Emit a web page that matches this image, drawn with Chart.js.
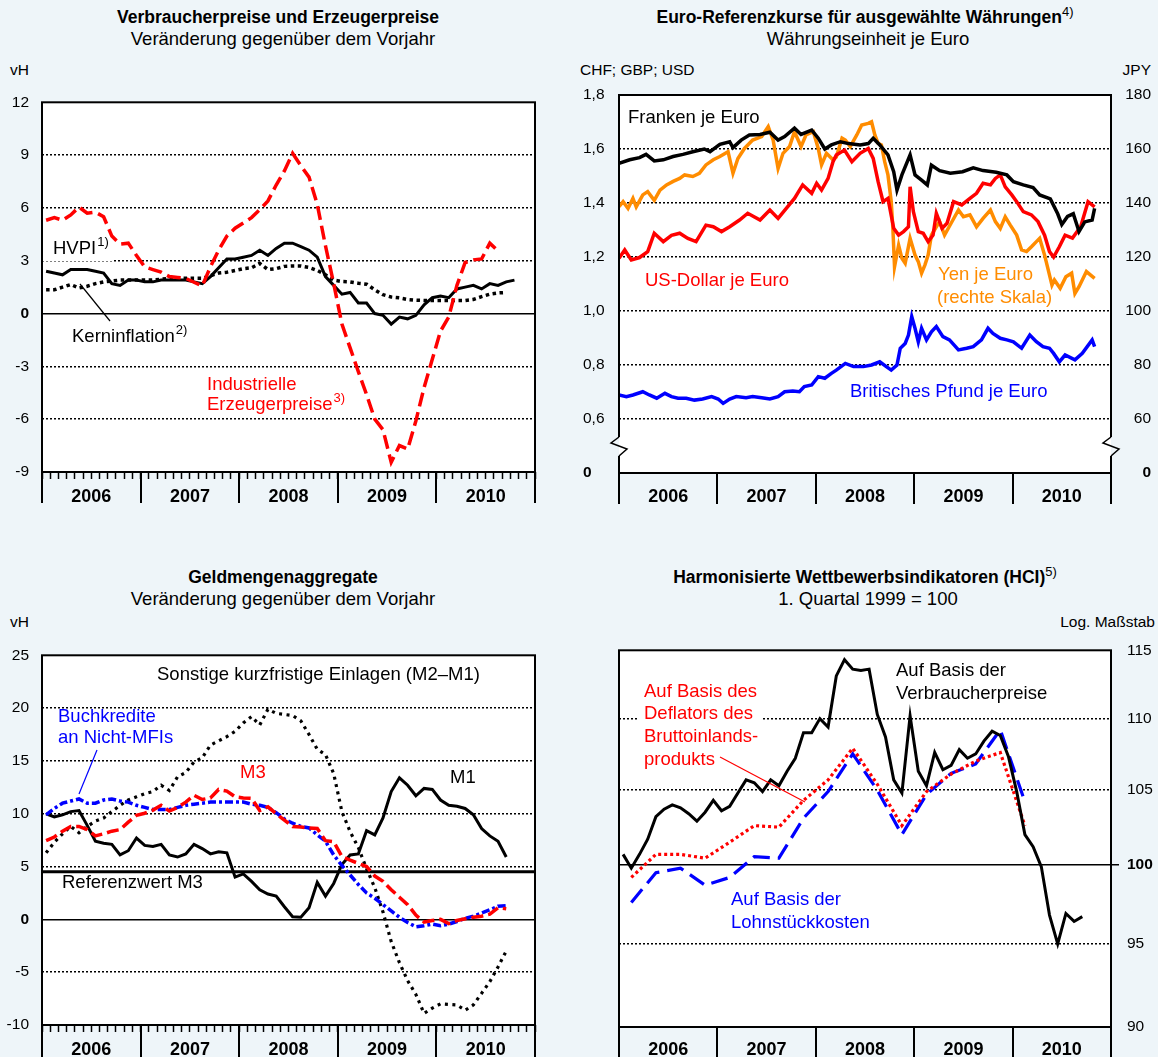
<!DOCTYPE html>
<html lang="de">
<head>
<meta charset="utf-8">
<title>Preise, Wechselkurse, Geldmengen, HCI</title>
<script src="https://cdn.jsdelivr.net/npm/chart.js@4/dist/chart.umd.min.js"></script>
<style>
  html, body { margin: 0; padding: 0; }
  body { width: 1158px; height: 1057px; position: relative; overflow: hidden; background: #eef5f9;
         font-family: "Liberation Sans", Arial, sans-serif; color: #000; }
  canvas { position: absolute; }
  .txt { position: absolute; white-space: nowrap; line-height: 1; font-size: 18.5px; }
  .c { transform: translate(-50%, -50%); }
  .l { transform: translate(0, -50%); }
  .r { transform: translate(-100%, -50%); }
  .b { font-weight: bold; font-size: 17.5px; }
  .s { font-size: 15.5px; }
  .sup { font-size: 13px; font-weight: normal; position: relative; top: -7px; }
</style>
</head>
<body>
<div class="txt c b" style="left:278px;top:18px">Verbraucherpreise und Erzeugerpreise</div>
<div class="txt c" style="left:283px;top:39px">Veränderung gegenüber dem Vorjahr</div>
<div class="txt l s" style="left:10px;top:70px">vH</div>
<div class="txt c b" style="left:865px;top:18px">Euro-Referenzkurse für ausgewählte Währungen<span class="sup">4)</span></div>
<div class="txt c" style="left:868px;top:39px">Währungseinheit je Euro</div>
<div class="txt l s" style="left:580px;top:70px">CHF; GBP; USD</div>
<div class="txt r s" style="left:1151px;top:70px">JPY</div>
<div class="txt c b" style="left:283px;top:578px">Geldmengenaggregate</div>
<div class="txt c" style="left:283px;top:599px">Veränderung gegenüber dem Vorjahr</div>
<div class="txt l s" style="left:10px;top:622px">vH</div>
<div class="txt c b" style="left:865px;top:578px">Harmonisierte Wettbewerbsindikatoren (HCI)<span class="sup">5)</span></div>
<div class="txt c" style="left:868px;top:599px">1. Quartal 1999 = 100</div>
<div class="txt r s" style="left:1155px;top:622px">Log. Maßstab</div>

<canvas id="cPreise" width="579" height="440" style="left:0;top:80px"></canvas>
<canvas id="cKurse" width="579" height="440" style="left:579px;top:80px"></canvas>
<canvas id="cGeld" width="579" height="424" style="left:0;top:633px"></canvas>
<canvas id="cHci" width="579" height="424" style="left:579px;top:633px"></canvas>

<script>
const FONT = '"Liberation Sans", Arial, sans-serif';
const BLACK = '#000000', RED = '#ff0000', BLUE = '#0000ff', ORANGE = '#ff8c00';

// x axis: months since Jan 2006
const yearLabels = ['2006', '2007', '2008', '2009', '2010'];
const yearBounds = [0, 12, 24, 36, 48, 60];

// Verbraucherpreise und Erzeugerpreise, vH, monthly from Jan 2006
const hvpi = [2.4, 2.3, 2.2, 2.5, 2.5, 2.5, 2.4, 2.3, 1.7, 1.6, 1.9, 1.9,
  1.8, 1.8, 1.9, 1.9, 1.9, 1.9, 1.8, 1.7, 2.1, 2.6, 3.1, 3.1,
  3.2, 3.3, 3.6, 3.3, 3.7, 4.0, 4.0, 3.8, 3.6, 3.2, 2.1, 1.6,
  1.1, 1.2, 0.6, 0.6, 0.0, -0.1, -0.6, -0.2, -0.3, -0.1, 0.5, 0.9,
  1.0, 0.9, 1.4, 1.5, 1.6, 1.4, 1.7, 1.6, 1.8, 1.9];
const kerninflation = [1.35, 1.35, 1.5, 1.65, 1.45, 1.55, 1.7, 1.8, 1.85, 1.9, 1.9, 1.9,
  1.9, 1.9, 1.95, 2.0, 2.0, 2.0, 2.0, 2.0, 2.15, 2.3, 2.35, 2.45,
  2.55, 2.6, 2.85, 2.5, 2.55, 2.68, 2.7, 2.7, 2.62, 2.45, 2.2, 1.9,
  1.82, 1.8, 1.72, 1.67, 1.35, 1.07, 0.94, 0.89, 0.8, 0.76, 0.74, 0.74,
  0.74, 0.74, 0.74, 0.74, 0.8, 0.96, 1.1, 1.17, 1.2];
const erzeugerpreise = [5.3, 5.45, 5.3, 5.6, 6.05, 5.7, 5.76, 5.5, 4.4, 3.95, 4.0, 3.3,
  2.65, 2.5, 2.35, 2.1, 2.05, 2.0, 1.78, 1.57, 2.65, 3.6, 4.4, 4.85,
  5.15, 5.45, 5.9, 6.4, 7.3, 8.1, 9.1, 8.4, 7.75, 6.2, 3.85, 1.7,
  -0.6, -1.95, -3.3, -4.6, -6.0, -6.6, -8.45, -7.5, -7.7, -6.1, -4.2, -2.6,
  -1.0, -0.2, 1.6, 2.9, 3.05, 3.1, 4.0, 3.55];

// Euro-Referenzkurse: [months since Jan 2006, rate]
const chf = [[0, 1.547], [1.3, 1.56], [2.5, 1.568], [3.3, 1.58], [4.3, 1.556], [5.4, 1.56], [6.6, 1.572],
  [7.8, 1.58], [9, 1.59], [10.4, 1.6], [11.1, 1.59], [12.3, 1.617], [13.5, 1.627], [13.9, 1.605],
  [14.9, 1.633], [15.9, 1.652], [17.2, 1.654], [18.4, 1.662], [19.4, 1.633], [20.2, 1.646], [21.4, 1.677],
  [22.2, 1.654], [23.5, 1.67], [24.3, 1.64], [25.1, 1.6], [25.9, 1.615], [27, 1.627], [28, 1.62],
  [29.4, 1.615], [30.4, 1.62], [31, 1.64], [31.8, 1.615], [32.8, 1.578], [33.5, 1.516], [33.9, 1.448],
  [34.5, 1.504], [35.5, 1.578], [36.1, 1.504], [36.9, 1.485], [37.6, 1.467], [38.1, 1.54], [39.1, 1.52],
  [40.4, 1.51], [41.9, 1.516], [43.2, 1.53], [44.4, 1.52], [46, 1.514], [47.3, 1.504], [48.1, 1.479],
  [49.3, 1.467], [50.5, 1.457], [51.3, 1.43], [52.6, 1.415], [53.5, 1.36], [54, 1.32], [54.7, 1.35],
  [55.4, 1.36], [56.1, 1.294], [56.8, 1.33], [57.7, 1.337], [58, 1.38]];
const usd = [[0, 1.195], [0.7, 1.226], [1.5, 1.189], [2.5, 1.198], [3.5, 1.22], [4.3, 1.288], [5.4, 1.257],
  [6.4, 1.28], [7.4, 1.288], [8.4, 1.269], [9.4, 1.257], [10.6, 1.318], [11.5, 1.312], [12.5, 1.294],
  [13.5, 1.312], [14.7, 1.337], [15.7, 1.362], [17.2, 1.337], [18.4, 1.374], [19.4, 1.343], [20.4, 1.38],
  [21.4, 1.417], [22.4, 1.467], [23.5, 1.436], [24.1, 1.473], [24.7, 1.448], [25.5, 1.491], [26.1, 1.553],
  [26.5, 1.578], [27.5, 1.596], [28.4, 1.553], [29.4, 1.584], [30.4, 1.602], [31, 1.565], [31.6, 1.479],
  [32.2, 1.405], [32.8, 1.417], [33.5, 1.306], [34.1, 1.281], [34.7, 1.294], [35.3, 1.312], [35.5, 1.46],
  [35.9, 1.368], [36.5, 1.294], [37.1, 1.288], [37.7, 1.257], [38.3, 1.281], [38.7, 1.362], [39.4, 1.306],
  [40, 1.325], [40.8, 1.405], [41.8, 1.393], [42.8, 1.417], [43.6, 1.436], [44.4, 1.473], [45.3, 1.467],
  [45.9, 1.491], [46.5, 1.504], [47.1, 1.46], [47.9, 1.43], [48.5, 1.405], [49.3, 1.368], [50.3, 1.356],
  [51.1, 1.331], [51.9, 1.281], [52.5, 1.22], [53, 1.2], [53.7, 1.238], [54.4, 1.281], [55.3, 1.27],
  [56.3, 1.312], [57.2, 1.405], [58, 1.386]];
const jpy = [[0, 138.6], [0.5, 140.5], [1.1, 138], [1.7, 141.7], [2.1, 138.6], [2.9, 143], [3.5, 144.2],
  [4.3, 141], [5, 144.8], [5.8, 146.7], [6.6, 148], [7.4, 149.1], [8, 150.4], [9, 149.8], [9.8, 151],
  [10.6, 154.1], [11.5, 156], [12.3, 157.2], [13.3, 159], [13.9, 151], [14.5, 156.5], [15.3, 160.2],
  [16.3, 163.3], [17.4, 164.6], [18.2, 168.3], [18.8, 163.3], [19.4, 152.8], [20, 158.4], [20.8, 160.9],
  [21.4, 166.4], [22.2, 160.9], [22.8, 165.2], [23.7, 166.4], [24.3, 160.2], [24.7, 154.1], [25.3, 158.4],
  [26.1, 156], [26.5, 157], [27.2, 164], [27.6, 163.3], [28.2, 160.9], [29, 165.2], [29.6, 168.9],
  [30.4, 169.5], [30.8, 170.1], [31.2, 165.2], [31.6, 162.1], [32, 161.5], [32.4, 155.3], [32.8, 150.4],
  [33.2, 140.5], [33.4, 130.6], [33.6, 116.4], [34.1, 124.4], [34.5, 119.5], [34.9, 117.7], [35.5, 126.9],
  [36.1, 120.7], [36.5, 118.3], [36.9, 114], [37.3, 117], [37.7, 120.7], [38.1, 128.1], [38.7, 131.2],
  [39.1, 133.1], [39.7, 128.1], [40.5, 132.5], [41.4, 137.4], [42, 134.9], [42.8, 135.6], [43.6, 131.2],
  [44.4, 134.3], [45.3, 137.4], [45.9, 133.1], [46.5, 130.6], [47.1, 134.9], [47.7, 131.9], [48.5, 128.1],
  [49.1, 122.6], [49.7, 122], [50.3, 123.8], [50.9, 125.7], [51.3, 126.9], [51.9, 120.7], [52.3, 115.8],
  [52.8, 109.6], [53.1, 111.5], [53.8, 108.4], [54.5, 112.7], [55.2, 114], [55.6, 106.5], [56.1, 109],
  [57, 114.6], [58, 112.1]];
const gbp = [[0, 0.689], [0.9, 0.683], [1.7, 0.689], [2.9, 0.701], [3.7, 0.689], [4.6, 0.677], [5.6, 0.695],
  [6.4, 0.683], [7.2, 0.677], [8.2, 0.677], [9.2, 0.67], [10.2, 0.674], [11.3, 0.683], [12.1, 0.674],
  [12.7, 0.658], [13.5, 0.674], [14.3, 0.683], [15.5, 0.679], [16.3, 0.683], [17.4, 0.679], [18.4, 0.674],
  [19.4, 0.683], [20.2, 0.701], [21.2, 0.704], [22, 0.701], [22.6, 0.72], [23.5, 0.726], [24.3, 0.757],
  [25.1, 0.751], [25.9, 0.769], [26.5, 0.781], [27.6, 0.806], [28.6, 0.794], [29.8, 0.794], [30.8, 0.8],
  [31.8, 0.812], [32.6, 0.794], [33.2, 0.781], [33.9, 0.8], [34.3, 0.862], [34.9, 0.88], [35.3, 0.911],
  [35.7, 0.979], [36.1, 0.936], [36.5, 0.886], [36.9, 0.936], [37.5, 0.893], [38.1, 0.923], [38.7, 0.942],
  [39.5, 0.905], [40.3, 0.893], [41.4, 0.856], [42.4, 0.862], [43.2, 0.868], [44.2, 0.893], [45, 0.936],
  [45.6, 0.917], [46.5, 0.899], [47.3, 0.893], [48.1, 0.886], [49.1, 0.862], [50.1, 0.911], [50.9, 0.886],
  [51.7, 0.868], [52.5, 0.862], [53, 0.843], [53.7, 0.812], [54.4, 0.837], [55.6, 0.819], [56.5, 0.843],
  [57.7, 0.893], [58, 0.868]];

// Geldmengenaggregate, vH, monthly from Jan 2006
const m1 = [10.0, 9.7, 9.9, 10.2, 10.3, 8.9, 7.4, 7.2, 7.1, 6.1, 6.5, 7.7,
  7.0, 6.9, 7.1, 6.1, 5.9, 6.2, 7.1, 6.7, 6.2, 6.4, 6.3, 4.0,
  4.3, 3.6, 2.8, 2.4, 2.2, 1.2, 0.25, 0.2, 1.1, 3.5, 2.2, 3.4,
  5.2, 6.1, 6.2, 8.4, 8.0, 9.6, 12.1, 13.4, 12.7, 11.7, 12.4, 12.3,
  11.3, 10.8, 10.7, 10.5, 9.9, 8.6, 7.9, 7.4, 5.9];
const m3 = [7.45, 7.8, 8.35, 8.8, 8.8, 8.5, 7.9, 8.1, 8.35, 8.5, 9.2, 9.85,
  10.05, 10.35, 10.8, 10.25, 10.6, 11.1, 11.75, 11.35, 11.5, 12.3, 12.15, 11.6,
  11.5, 11.45, 10.3, 10.65, 10.0, 9.4, 8.8, 8.75, 8.65, 8.6, 7.45, 7.35,
  5.95, 5.6, 5.3, 5.0, 4.1, 3.6, 2.8, 2.1, 1.4, 0.4, -0.25, -0.1,
  0.0, -0.4, -0.1, 0.05, 0.2, 0.3, 0.5, 1.1, 1.0];
const buchkredite = [9.9, 10.5, 11.0, 11.2, 11.4, 11.0, 11.0, 11.3, 11.4, 11.2, 11.1, 10.8,
  10.6, 10.4, 10.4, 10.4, 10.6, 10.8, 10.9, 11.0, 11.1, 11.1, 11.1, 11.1,
  11.1, 10.9, 10.8, 10.6, 10.1, 9.5, 9.1, 8.8, 8.65, 8.0, 7.4, 6.1,
  5.1, 4.2, 3.3, 2.5, 2.0, 1.4, 0.8, 0.2, -0.3, -0.7, -0.6, -0.45,
  -0.6, -0.45, -0.2, 0.1, 0.3, 0.6, 0.9, 1.25, 1.3];
const sonstigeEinlagen = [6.3, 7.3, 8.1, 8.8, 8.2, 8.8, 9.3, 9.6, 10.2, 10.8, 11.3, 11.6,
  11.9, 12.1, 12.7, 12.2, 13.5, 13.9, 14.9, 15.3, 16.5, 16.9, 17.3, 17.8,
  18.6, 19.2, 18.4, 19.9, 19.5, 19.4, 19.3, 18.8, 17.5, 16.1, 15.6, 13.8,
  10.2, 8.3, 6.8, 4.8, 3.0, 0.7, -2.1, -4.1, -5.8, -7.1, -8.9, -8.4,
  -8.0, -8.05, -8.1, -8.6, -8.1, -7.0, -5.9, -4.5, -3.0];
const referenzwertM3 = 4.5;

// HCI, 1. Quartal 1999 = 100
const hciVerbraucher = [100.7, 99.8, 100.7, 101.7, 103.2, 103.7, 104.0, 103.8, 103.4, 102.9, 103.5, 104.3,
  103.6, 103.9, 104.8, 105.7, 105.5, 104.9, 105.7, 105.3, 106.3, 107.2, 109.0, 109.0,
  110.0, 109.4, 113.1, 114.3, 113.6, 113.5, 113.6, 110.3, 108.7, 105.7, 104.8, 110.2,
  106.3, 105.3, 107.6, 106.4, 106.7, 107.8, 107.2, 107.5, 108.4, 109.1, 108.8, 107.3,
  104.9, 102.0, 101.2, 99.9, 96.8, 95.0, 96.9, 96.4, 96.7];              // monthly
const hciDeflator = [99.2, 100.7, 100.7, 100.45, 101.5, 102.6, 102.5, 104.3, 105.7,
  107.9, 105.4, 102.6, 104.9, 106.1, 107.0, 107.6, 102.6];               // quarterly
const hciLohnstueck = [97.6, 99.5, 99.8, 98.7, 99.2, 100.55, 100.45, 103.1, 104.9,
  107.5, 105.0, 102.0, 104.7, 106.15, 106.8, 109.2, 104.2];              // quarterly

const monthly = arr => arr.map((v, i) => ({x: i + 0.5, y: v}));
const quarterly = arr => arr.map((v, i) => ({x: i * 3 + 1.5, y: v}));
const daily = arr => arr.map(p => ({x: p[0], y: p[1]}));

function line(data, color, width, dash, axis) {
  return {data, borderColor: color, borderWidth: width, borderDash: dash || [], borderCapStyle: 'butt',
    borderJoinStyle: 'miter', pointRadius: 0, tension: 0, fill: false, yAxisID: axis || 'y'};
}

function xAxis(monthTicks, height, pad) {
  return {
    type: 'linear', min: 0, max: 60,
    afterBuildTicks: s => {
      s.ticks = monthTicks ? Array.from({length: 61}, (_, i) => ({value: i}))
                           : [6, 18, 30, 42, 54].map(v => ({value: v}));
    },
    ticks: {
      autoSkip: false, maxRotation: 0, minRotation: 0, padding: pad, color: BLACK,
      font: {family: FONT, size: 18, weight: 'bold'},
      callback: v => (v % 12 === 6 ? yearLabels[(v - 6) / 12] : '')
    },
    grid: monthTicks
      ? {drawOnChartArea: false, drawTicks: true, tickLength: 7, tickWidth: 1.5, tickColor: BLACK, color: BLACK}
      : {display: false, drawTicks: false},
    border: {display: false},
    afterFit: s => { s.height = height; }
  };
}

function yAxis(o) {
  const n = o.ticks.length;
  return {
    type: o.type || 'linear', position: o.position || 'left', min: o.min, max: o.max,
    afterBuildTicks: s => { s.ticks = o.ticks.map(v => ({value: v})); },
    ticks: {
      padding: o.pad, crossAlign: o.cross || 'near', color: BLACK,
      font: c => ({family: FONT, size: 15.5, weight: c.tick && c.tick.value === o.strong ? 'bold' : 'normal'}),
      callback: o.label || (v => String(v))
    },
    grid: o.grid === false ? {display: false, drawTicks: false} : {
      drawTicks: o.tickAt !== undefined, tickLength: 8, tickWidth: 1.5,
      tickColor: c => (c.tick && c.tick.value === o.tickAt ? BLACK : 'rgba(0,0,0,0)'),
      lineWidth: 1.5,
      color: c => (c.index > 0 && c.index < n - 1 ? BLACK : 'rgba(0,0,0,0)')
    },
    border: {display: false, dash: c => (c.tick && c.tick.value === o.solid ? [] : [2, 2])},
    afterFit: s => { s.width = o.width; }
  };
}

// frame, year dividers, notes and other decoration in page coordinates
function decor(off, d) {
  const px = x => x - off[0], py = y => y - off[1];
  return {
    id: 'decor',
    beforeDraw(chart) {
      const {ctx, chartArea: a} = chart;
      ctx.save();
      ctx.fillStyle = '#ffffff';
      ctx.fillRect(a.left, a.top, a.right - a.left, a.bottom - a.top);
      ctx.restore();
    },
    beforeDatasetsDraw(chart) {
      const ctx = chart.ctx;
      ctx.save();
      ctx.fillStyle = '#ffffff';
      (d.boxes || []).forEach(b => ctx.fillRect(px(b[0]), py(b[1]), b[2] - b[0], b[3] - b[1]));
      ctx.textBaseline = 'alphabetic';
      ctx.textAlign = 'left';
      (d.notes || []).forEach(nt => {
        ctx.fillStyle = nt.c || BLACK;
        ctx.font = '18.5px ' + FONT;
        ctx.fillText(nt.t, px(nt.x), py(nt.y));
        if (nt.s) {
          const w = ctx.measureText(nt.t).width;
          ctx.font = '13px ' + FONT;
          ctx.fillText(nt.s, px(nt.x) + w + 1, py(nt.y) - 8);
        }
      });
      ctx.restore();
    },
    afterDatasetsDraw(chart) {
      const {ctx, chartArea: a} = chart;
      const xs = chart.scales.x;
      ctx.save();
      ctx.strokeStyle = BLACK;
      ctx.lineWidth = 2;
      ctx.strokeRect(a.left, a.top, a.right - a.left, a.bottom - a.top);
      ctx.beginPath();
      yearBounds.forEach(v => {
        const x = Math.round(xs.getPixelForValue(v));
        ctx.moveTo(x, a.bottom);
        ctx.lineTo(x, a.bottom + d.band);
      });
      ctx.stroke();
      (d.leaders || []).forEach(l => {
        ctx.strokeStyle = l[4];
        ctx.lineWidth = 1.2;
        ctx.beginPath();
        ctx.moveTo(px(l[0]), py(l[1]));
        ctx.lineTo(px(l[2]), py(l[3]));
        ctx.stroke();
      });
      if (d.breakAt !== undefined) {
        const y = chart.scales.y.getPixelForValue(d.breakAt);
        [[a.left, -1], [a.right, 1]].forEach(([x, side]) => {
          ctx.clearRect(side < 0 ? x - 2 : x, y - 9, 2, 19);
          ctx.fillStyle = '#ffffff';
          ctx.fillRect(side < 0 ? x : x - 2, y - 9, 2, 19);
          ctx.strokeStyle = BLACK;
          ctx.lineWidth = 1.5;
          ctx.beginPath();
          ctx.moveTo(x, y - 9);
          ctx.lineTo(x - 8, y - 3);
          ctx.lineTo(x + 8, y + 3);
          ctx.lineTo(x, y + 10);
          ctx.stroke();
        });
      }
      ctx.restore();
    }
  };
}

function makeChart(id, datasets, scales, padding, plugin) {
  return new Chart(document.getElementById(id), {
    type: 'line',
    data: {datasets},
    options: {
      responsive: false, animation: false, devicePixelRatio: 1, events: [],
      layout: {padding, autoPadding: false},
      scales,
      plugins: {legend: {display: false}, tooltip: {enabled: false}}
    },
    plugins: [plugin]
  });
}

// Verbraucherpreise und Erzeugerpreise
makeChart('cPreise', [
  line(monthly(erzeugerpreise), RED, 3.5, [14, 6]),
  line(monthly(hvpi), BLACK, 3),
  line(monthly(kerninflation), BLACK, 3.5, [3.5, 3.5])
], {
  x: xAxis(true, 48, 7),
  y: yAxis({min: -9, max: 12, ticks: [-9, -6, -3, 0, 3, 6, 9, 12], width: 42, pad: 13, strong: 0, solid: 0})
}, {top: 14, right: 44, left: 0, bottom: 0}, decor([0, 80], {
  band: 31,
  boxes: [[42, 249, 114, 261]],
  notes: [
    {t: 'HVPI', s: '1)', x: 53, y: 254},
    {t: 'Kerninflation', s: '2)', x: 72, y: 342},
    {t: 'Industrielle', x: 207, y: 390, c: RED},
    {t: 'Erzeugerpreise', s: '3)', x: 207, y: 410, c: RED}
  ],
  leaders: [[110, 321, 80, 284, BLACK]]
}));

// Euro-Referenzkurse
makeChart('cKurse', [
  line(daily(chf), BLACK, 3.5),
  line(daily(usd), RED, 3.5),
  line(daily(jpy), ORANGE, 3.5, [], 'y2'),
  line(daily(gbp), BLUE, 3.5)
], {
  x: xAxis(false, 47, 13),
  y: yAxis({min: 0.4, max: 1.8, ticks: [0.4, 0.6, 0.8, 1.0, 1.2, 1.4, 1.6, 1.8], width: 36, pad: 0,
    cross: 'far', strong: 0.4, label: v => (v === 0.4 ? '0' : v.toFixed(1).replace('.', ','))}),
  y2: yAxis({position: 'right', min: 40, max: 180, ticks: [40, 60, 80, 100, 120, 140, 160, 180], width: 40,
    pad: 0, cross: 'far', strong: 40, grid: false, label: v => (v === 40 ? '0' : String(v))})
}, {top: 15, right: 7, left: 4, bottom: 0}, decor([579, 80], {
  band: 31,
  breakAt: 0.5,
  notes: [
    {t: 'Franken je Euro', x: 628, y: 123},
    {t: 'US-Dollar je Euro', x: 645, y: 286, c: RED},
    {t: 'Yen je Euro', x: 938, y: 280, c: ORANGE},
    {t: '(rechte Skala)', x: 937, y: 303, c: ORANGE},
    {t: 'Britisches Pfund je Euro', x: 850, y: 397, c: BLUE}
  ]
}));

// Geldmengenaggregate
makeChart('cGeld', [
  line(monthly(m3), RED, 3.5, [12, 5]),
  line(monthly(buchkredite), BLUE, 3.5, [8, 3, 3, 3]),
  line(monthly(m1), BLACK, 3),
  line(monthly(sonstigeEinlagen), BLACK, 3.2, [3, 4.5]),
  line([{x: 0, y: referenzwertM3}, {x: 60, y: referenzwertM3}], BLACK, 3)
], {
  x: xAxis(true, 32, 7),
  y: yAxis({min: -10, max: 25, ticks: [-10, -5, 0, 5, 10, 15, 20, 25], width: 42, pad: 13, strong: 0, solid: 0})
}, {top: 14, right: 44, left: 0, bottom: 0}, decor([0, 633], {
  band: 40,
  notes: [
    {t: 'Sonstige kurzfristige Einlagen (M2\u2013M1)', x: 157, y: 680},
    {t: 'Buchkredite', x: 58, y: 722, c: BLUE},
    {t: 'an Nicht-MFIs', x: 58, y: 743, c: BLUE},
    {t: 'M3', x: 240, y: 778, c: RED},
    {t: 'M1', x: 450, y: 783},
    {t: 'Referenzwert M3', x: 62, y: 888}
  ],
  leaders: [[97, 750, 79, 794, BLUE]]
}));

// Harmonisierte Wettbewerbsindikatoren
makeChart('cHci', [
  line(monthly(hciVerbraucher), BLACK, 3),
  line(quarterly(hciDeflator), RED, 3.2, [3, 3]),
  line(quarterly(hciLohnstueck), BLUE, 3.2, [17, 8])
], {
  x: xAxis(false, 30, 12),
  y: yAxis({type: 'logarithmic', position: 'right', min: 90, max: 115, ticks: [90, 95, 100, 105, 110, 115],
    width: 47, pad: 8, strong: 100, solid: 100, tickAt: 100})
}, {top: 16, right: 0, left: 40, bottom: 0}, decor([579, 633], {
  band: 40,
  boxes: [[637, 712, 762, 723]],
  notes: [
    {t: 'Auf Basis des', x: 644, y: 697, c: RED},
    {t: 'Deflators des', x: 644, y: 719, c: RED},
    {t: 'Bruttoinlands-', x: 644, y: 742, c: RED},
    {t: 'produkts', x: 644, y: 765, c: RED},
    {t: 'Auf Basis der', x: 896, y: 676},
    {t: 'Verbraucherpreise', x: 896, y: 699},
    {t: 'Auf Basis der', x: 731, y: 905, c: BLUE},
    {t: 'Lohnstückkosten', x: 731, y: 928, c: BLUE}
  ],
  leaders: [[720, 757, 805, 802, RED]]
}));
</script>
</body>
</html>
